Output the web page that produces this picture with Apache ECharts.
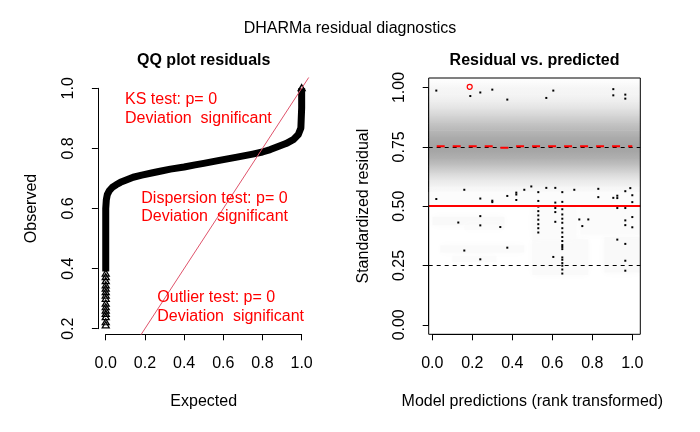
<!DOCTYPE html>
<html><head><meta charset="utf-8">
<script src="https://cdn.jsdelivr.net/npm/echarts@6/dist/echarts.min.js"></script>
<style>html,body{margin:0;padding:0;background:#fff}#c{width:700px;height:432px}</style>
</head><body><div id="c"></div>
<script>
// ---------------- data ----------------
const qqExpected = [0, 0, 0, 0.003, 0.008, 0.018, 0.033, 0.053, 0.075, 0.098, 0.14, 0.184, 0.24, 0.277, 0.33, 0.40, 0.456, 0.50, 0.58, 0.67, 0.75, 0.80, 0.84, 0.88, 0.92, 0.957, 0.983, 0.996, 1.0, 1.0];
const qqObserved = [0.39, 0.50, 0.60, 0.629, 0.646, 0.659, 0.670, 0.679, 0.687, 0.693, 0.704, 0.711, 0.719, 0.724, 0.731, 0.738, 0.745, 0.75, 0.76, 0.771, 0.781, 0.788, 0.796, 0.806, 0.816, 0.829, 0.846, 0.868, 0.935, 1.0];
const qqTailExpected = [0, 0, 0, 0, 0, 0, 0, 0, 0, 0, 0, 0, 0, 0, 0, 1.0];
const qqTailObserved = [0.213, 0.223, 0.24, 0.251, 0.262, 0.273, 0.285, 0.301, 0.312, 0.323, 0.335, 0.346, 0.36, 0.373, 0.385, 1.002];
const identityLine = [0, 1.1];

const qqXTicks = ['0.0', '0.2', '0.4', '0.6', '0.8', '1.0'];
const qqYTicks = ['0.2', '0.4', '0.6', '0.8', '1.0'];
const rvpXTicks = ['0.0', '0.2', '0.4', '0.6', '0.8', '1.0'];
const rvpYTicks = ['0.00', '0.25', '0.50', '0.75', '1.00'];

// density of residuals (vertical profile) and local light patches
const densityY = [1.043, 1.02, 1.00, 0.97, 0.94, 0.91, 0.88, 0.85, 0.82, 0.79, 0.76, 0.73, 0.70, 0.67, 0.64, 0.61, 0.58, 0.55, 0.52, 0.50];
const densityD = [0.0, 0.04, 0.09, 0.11, 0.18, 0.29, 0.43, 0.58, 0.72, 0.84, 0.91, 0.89, 0.78, 0.60, 0.40, 0.22, 0.11, 0.06, 0.03, 0.0];
const densityPatches = [
  [0.0, 0.36, 0.42, 0.455, 0.06],
  [0.16, 0.36, 0.40, 0.42, 0.04],
  [0.04, 0.46, 0.305, 0.335, 0.05],
  [0.10, 0.32, 0.265, 0.29, 0.045],
  [0.50, 0.78, 0.21, 0.36, 0.05],
  [0.50, 0.72, 0.36, 0.50, 0.045],
  [0.86, 1.04, 0.22, 0.37, 0.06],
  [0.74, 1.04, 0.38, 0.50, 0.045],
  [-0.02, 1.04, 0.50, 0.56, 0.03]
];

const dotX = [0.02, 0.19, 0.24, 0.30, 0.375, 0.57, 0.605, 0.905, 0.905, 0.965, 0.965,
  0.16, 0.02, 0.24, 0.30, 0.30, 0.375, 0.42, 0.42, 0.42, 0.46, 0.495, 0.53, 0.57, 0.615, 0.65, 0.71, 0.83, 0.83, 0.905, 0.925, 0.925, 0.965, 0.99, 1.0, 1.0,
  0.53, 0.53, 0.53, 0.53, 0.53, 0.53, 0.53, 0.53,
  0.615, 0.615, 0.615, 0.615,
  0.65, 0.65, 0.65, 0.65, 0.65, 0.65, 0.65, 0.65, 0.65, 0.65, 0.65, 0.65, 0.65, 0.65, 0.65, 0.65, 0.65, 0.65,
  0.24, 0.13, 0.24, 0.34, 0.16, 0.24, 0.375, 0.605, 0.735, 0.75, 0.78, 0.925, 0.965, 1.0, 0.965, 0.965, 1.0, 0.925, 0.965, 0.965, 0.965];
const dotY = [0.987, 0.964, 0.979, 0.991, 0.949, 0.956, 0.987, 0.993, 0.967, 0.970, 0.953,
  0.569, 0.53, 0.532, 0.523, 0.517, 0.543, 0.557, 0.549, 0.526, 0.569, 0.583, 0.559, 0.577, 0.577, 0.559, 0.569, 0.573, 0.538, 0.535, 0.544, 0.534, 0.563, 0.576, 0.546, 0.517,
  0.522, 0.498, 0.479, 0.461, 0.443, 0.424, 0.407, 0.389,
  0.515, 0.492, 0.475, 0.434,
  0.518, 0.487, 0.465, 0.447, 0.43, 0.407, 0.389, 0.37, 0.353, 0.336, 0.328, 0.319, 0.284, 0.274, 0.26, 0.249, 0.233, 0.216,
  0.458, 0.431, 0.419, 0.412, 0.313, 0.276, 0.325, 0.286, 0.444, 0.416, 0.444, 0.492, 0.492, 0.454, 0.44, 0.42, 0.411, 0.359, 0.341, 0.27, 0.228];
const outlierX = [0.187];
const outlierY = [1.003];
const q75X = [0.022, 0.32, 0.335, 0.39, 0.405, 1.0];
const q75Y = [0.752, 0.752, 0.746, 0.746, 0.752, 0.752];
const refLevels = [0.25, 0.5, 0.75];
const refIsSignificant = [false, true, false];

// ---------------- chart ----------------
const FONT = "'Liberation Sans', Arial, sans-serif";
const grey = d => { const g = Math.round(255 - 100 * d); return 'rgb(' + g + ',' + g + ',' + g + ')'; };
const pairs = (xs, ys) => xs.map((x, i) => [x, ys[i]]);

function visAxis(gridIndex, extra) {
  return Object.assign({
    gridIndex, type: 'value',
    axisLine: { show: true, onZero: false, lineStyle: { color: '#000', width: 1 } },
    axisTick: { show: true, length: 6, inside: false, lineStyle: { color: '#000', width: 1 } },
    splitLine: { show: false },
    nameLocation: 'middle',
    nameTextStyle: { color: '#000', fontSize: 16, fontFamily: FONT }
  }, extra);
}
function hidAxis(gridIndex, min, max) {
  return { gridIndex, type: 'value', min, max, show: false, splitLine: { show: false } };
}
const lbl = (extra) => Object.assign({ color: '#000', fontSize: 16, fontFamily: FONT, margin: 21, hideOverlap: false, showMinLabel: true, showMaxLabel: true }, extra);

const option = {
  animation: false,
  backgroundColor: '#fff',
  grid: [
    { left: 97.9, top: 78, width: 211.6, height: 256.3, outerBoundsMode: 'none', containLabel: false },
    { left: 105.74, top: 88.3, width: 195.9, height: 240.4, outerBoundsMode: 'none', containLabel: false },
    { left: 428.7, top: 78, width: 211.6, height: 256.3, show: true, borderColor: '#000', borderWidth: 1, backgroundColor: 'transparent', z: 10, outerBoundsMode: 'none', containLabel: false },
    { left: 432.3, top: 87.5, width: 200, height: 237.3, outerBoundsMode: 'none', containLabel: false }
  ],
  xAxis: [
    hidAxis(0, -0.04, 1.04),
    visAxis(1, { min: 0, max: 1, interval: 0.2, offset: 5.6, name: 'Expected', nameGap: 59,
      axisLabel: lbl({ formatter: v => qqXTicks[Math.round(v / 0.2)] }) }),
    hidAxis(2, -0.018, 1.04),
    visAxis(3, { min: 0, max: 1, interval: 0.2, offset: 9.5, name: 'Model predictions (rank transformed)', nameGap: 59,
      axisLabel: lbl({ formatter: v => rvpXTicks[Math.round(v / 0.2)] }) })
  ],
  yAxis: [
    hidAxis(0, 0.1813, 1.0343),
    visAxis(1, { min: 0.2, max: 1.0, interval: 0.2, offset: 7.84, name: 'Observed', nameGap: 58,
      axisLabel: lbl({ rotate: 90, formatter: v => qqYTicks[Math.round((v - 0.2) / 0.2)] }) }),
    hidAxis(2, -0.04, 1.04),
    visAxis(3, { min: 0, max: 1, interval: 0.25, offset: 3.6, name: 'Standardized residual', nameGap: 57,
      axisLabel: lbl({ rotate: 90, formatter: v => rvpYTicks[Math.round(v / 0.25)] }) })
  ],
  graphic: [
    { type: 'text', x: 350, y: 29, style: { text: 'DHARMa residual diagnostics', fontSize: 16, fontFamily: FONT, fill: '#000', align: 'center', verticalAlign: 'middle' } },
    { type: 'text', x: 203.7, y: 60.5, style: { text: 'QQ plot residuals', fontSize: 16, fontWeight: 'bold', fontFamily: FONT, fill: '#000', align: 'center', verticalAlign: 'middle' } },
    { type: 'text', x: 534.5, y: 60.5, style: { text: 'Residual vs. predicted', fontSize: 16, fontWeight: 'bold', fontFamily: FONT, fill: '#000', align: 'center', verticalAlign: 'middle' } },
    { type: 'text', x: 125, y: 100, z: 20, style: { text: 'KS test: p= 0', fontSize: 16, fontFamily: FONT, fill: '#ff0000', align: 'left', verticalAlign: 'middle' } },
    { type: 'text', x: 125, y: 119, z: 20, style: { text: 'Deviation  significant', fontSize: 16, fontFamily: FONT, fill: '#ff0000', align: 'left', verticalAlign: 'middle' } },
    { type: 'text', x: 141.3, y: 198.5, z: 20, style: { text: 'Dispersion test: p= 0', fontSize: 16, fontFamily: FONT, fill: '#ff0000', align: 'left', verticalAlign: 'middle' } },
    { type: 'text', x: 141.3, y: 217, z: 20, style: { text: 'Deviation  significant', fontSize: 16, fontFamily: FONT, fill: '#ff0000', align: 'left', verticalAlign: 'middle' } },
    { type: 'text', x: 157.3, y: 297.5, z: 20, style: { text: 'Outlier test: p= 0', fontSize: 16, fontFamily: FONT, fill: '#ff0000', align: 'left', verticalAlign: 'middle' } },
    { type: 'text', x: 157.3, y: 316.5, z: 20, style: { text: 'Deviation  significant', fontSize: 16, fontFamily: FONT, fill: '#ff0000', align: 'left', verticalAlign: 'middle' } }
  ],
  series: [
    // ---- QQ plot ----
    { type: 'line', xAxisIndex: 0, yAxisIndex: 0, data: pairs(qqExpected, qqObserved), symbol: 'none', silent: true, z: 3,
      lineStyle: { color: '#000', width: 7, join: 'round', cap: 'butt' } },
    { type: 'scatter', xAxisIndex: 0, yAxisIndex: 0, data: pairs(qqTailExpected, qqTailObserved), symbol: 'triangle', symbolSize: [7, 6], silent: true, z: 3,
      itemStyle: { color: 'rgba(0,0,0,0)', borderColor: '#000', borderWidth: 1.3, opacity: 1 } },
    { type: 'line', xAxisIndex: 0, yAxisIndex: 0, data: pairs(identityLine, identityLine), symbol: 'none', silent: true, z: 4, clip: true,
      lineStyle: { color: '#DF536B', width: 1 } },
    // ---- residual vs predicted ----
    { type: 'custom', xAxisIndex: 2, yAxisIndex: 2, silent: true, z: 1, clip: true,
      data: densityY.slice(0, -1).map((y, i) => [y, densityY[i + 1], densityD[i], densityD[i + 1]]),
      renderItem: (params, api) => {
        const cs = params.coordSys;
        const t = api.coord([0, api.value(0)])[1];
        const b = api.coord([0, api.value(1)])[1];
        return { type: 'rect', shape: { x: cs.x, y: t, width: cs.width, height: b - t + 0.6 },
          style: { fill: new echarts.graphic.LinearGradient(0, 0, 0, 1, [
            { offset: 0, color: grey(api.value(2)) }, { offset: 1, color: grey(api.value(3)) }]) } };
      } },
    { type: 'custom', xAxisIndex: 2, yAxisIndex: 2, silent: true, z: 1, clip: true,
      data: densityPatches,
      renderItem: (params, api) => {
        const p0 = api.coord([api.value(0), api.value(3)]);
        const p1 = api.coord([api.value(1), api.value(2)]);
        const c = grey(api.value(4));
        return { type: 'rect', shape: { x: p0[0], y: p0[1], width: p1[0] - p0[0], height: p1[1] - p0[1] },
          style: { fill: c, shadowBlur: 8, shadowColor: c } };
      } },
    { type: 'scatter', xAxisIndex: 2, yAxisIndex: 2, data: pairs(dotX, dotY), symbol: 'rect', symbolSize: 2, silent: true, z: 3,
      itemStyle: { color: '#000', opacity: 1 } },
    { type: 'scatter', xAxisIndex: 2, yAxisIndex: 2, data: pairs(outlierX, outlierY), symbol: 'circle', symbolSize: 5, silent: true, z: 3,
      itemStyle: { color: 'rgba(0,0,0,0)', borderColor: '#ff0000', borderWidth: 1.2, opacity: 1 } },
    { type: 'line', xAxisIndex: 2, yAxisIndex: 2, data: [], silent: true, z: 4,
      markLine: { silent: true, symbol: 'none', label: { show: false }, animation: false,
        data: refLevels.map((v, i) => ({ yAxis: v,
          lineStyle: refIsSignificant[i] ? { color: '#ff0000', width: 2, type: 'solid' } : { color: '#000', width: 1, type: [4, 4] } })) } },
    { type: 'line', xAxisIndex: 2, yAxisIndex: 2, data: pairs(q75X, q75Y), symbol: 'none', silent: true, z: 5,
      lineStyle: { color: '#ff0000', width: 2, type: [8, 8] } }
  ]
};

const chart = echarts.init(document.getElementById('c'), null, { renderer: 'canvas' });
chart.setOption(option);
</script>
</body></html>
